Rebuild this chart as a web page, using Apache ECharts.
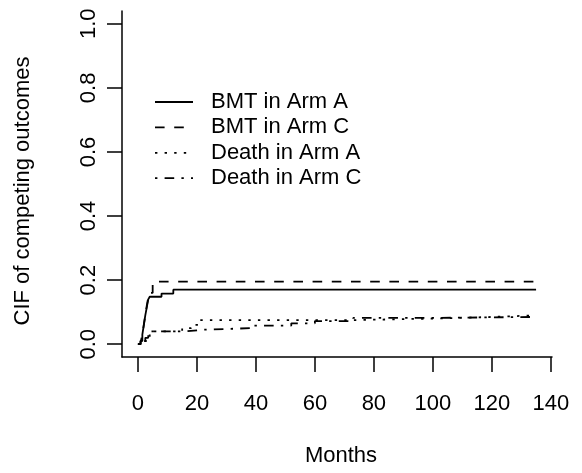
<!DOCTYPE html>
<html>
<head>
<meta charset="utf-8">
<script src="https://cdn.jsdelivr.net/npm/echarts@6/dist/echarts.min.js"></script>
<style>
  html, body { margin: 0; padding: 0; background: #fff; }
  #chart { width: 582px; height: 473px; }
</style>
</head>
<body>
<div id="chart"></div>
<script>
// Cumulative incidence of competing outcomes, step functions (month, CIF)
const bmtArmA = [[0,0],[0.8,0.01],[1.5,0.03],[2,0.06],[2.5,0.09],[3,0.115],[3.5,0.14],[4,0.148],[8,0.158],[12,0.17],[135,0.17]];
const bmtArmC = [[0,0],[1,0.01],[1.5,0.03],[2,0.06],[2.5,0.09],[3,0.12],[3.5,0.145],[4.2,0.16],[5,0.195],[135,0.195]];
const deathArmA = [[0,0],[1.5,0.01],[3,0.02],[4,0.04],[15,0.05],[18,0.06],[21,0.075],[72,0.08],[100,0.085],[120,0.09],[135,0.09]];
const deathArmC = [[0,0],[1,0.01],[2.5,0.02],[3.5,0.04],[16,0.045],[22,0.05],[38,0.058],[52,0.065],[60,0.072],[73,0.082],[100,0.085],[135,0.085]];

const seriesNames = ['BMT in Arm A', 'BMT in Arm C', 'Death in Arm A', 'Death in Arm C'];
const xTicks = [0, 20, 40, 60, 80, 100, 120, 140];
const yTicks = [0, 0.2, 0.4, 0.6, 0.8, 1.0];

const FONT = 'Liberation Sans, Arial, Helvetica, sans-serif';
const FS = 22;
const S = 2.4; // dash unit
const dashStyles = [
  'solid',
  [4 * S, 4 * S],
  [1 * S, 3 * S],
  [1 * S, 3 * S, 4 * S, 3 * S]
];
const curves = [bmtArmA, bmtArmC, deathArmA, deathArmC];

// legend block: key lines and labels
const legendX = 155, legendKeyW = 38, legendTextX = 211, legendTop = 102, legendRow = 25.4;
const legendGraphics = [];
seriesNames.forEach((name, i) => {
  const y = legendTop + i * legendRow;
  legendGraphics.push({
    type: 'line',
    shape: { x1: legendX, y1: y, x2: legendX + legendKeyW, y2: y },
    style: {
      stroke: '#000', lineWidth: 1.8, lineCap: 'butt',
      lineDash: dashStyles[i] === 'solid' ? null : dashStyles[i]
    }
  });
  legendGraphics.push({
    type: 'text',
    x: legendTextX, y: y,
    style: { text: name, fill: '#000', font: FS + 'px ' + FONT, textVerticalAlign: 'middle', textAlign: 'left' }
  });
});

const chart = echarts.init(document.getElementById('chart'), null, { renderer: 'canvas' });

chart.setOption({
  animation: false,
  backgroundColor: '#ffffff',
  grid: { left: 122, right: 30, top: 11, bottom: 116 },
  graphic: legendGraphics,
  xAxis: {
    type: 'value',
    min: -5.4,
    max: 140.4,
    name: 'Months',
    nameLocation: 'middle',
    nameGap: 88,
    nameTextStyle: { color: '#000', fontSize: FS, fontFamily: FONT, padding: [0, 0, 0, 8] },
    axisLine: { show: true, onZero: false, lineStyle: { color: '#000', width: 1.5 } },
    axisTick: { show: true, length: 15, inside: false, customValues: xTicks, lineStyle: { color: '#000', width: 1.5 } },
    axisLabel: { show: true, customValues: xTicks, margin: 36, color: '#000', fontSize: FS, fontFamily: FONT },
    splitLine: { show: false }
  },
  yAxis: {
    type: 'value',
    min: -0.04,
    max: 1.04,
    name: 'CIF of competing outcomes',
    nameLocation: 'middle',
    nameGap: 88,
    nameRotate: 90,
    nameTextStyle: { color: '#000', fontSize: FS, fontFamily: FONT, padding: [0, 14, 0, 0] },
    axisLine: { show: true, onZero: false, lineStyle: { color: '#000', width: 1.5 } },
    axisTick: { show: true, length: 15, inside: false, customValues: yTicks, lineStyle: { color: '#000', width: 1.5 } },
    axisLabel: {
      show: true, customValues: yTicks, rotate: 90, margin: 22, color: '#000', fontSize: FS, fontFamily: FONT,
      formatter: v => v.toFixed(1)
    },
    splitLine: { show: false }
  },
  series: curves.map((d, i) => ({
    name: seriesNames[i],
    type: 'line',
    step: 'end',
    data: d,
    symbol: 'none',
    color: '#000',
    lineStyle: { color: '#000', width: 1.8, type: dashStyles[i], cap: 'butt' }
  }))
});
</script>
</body>
</html>
